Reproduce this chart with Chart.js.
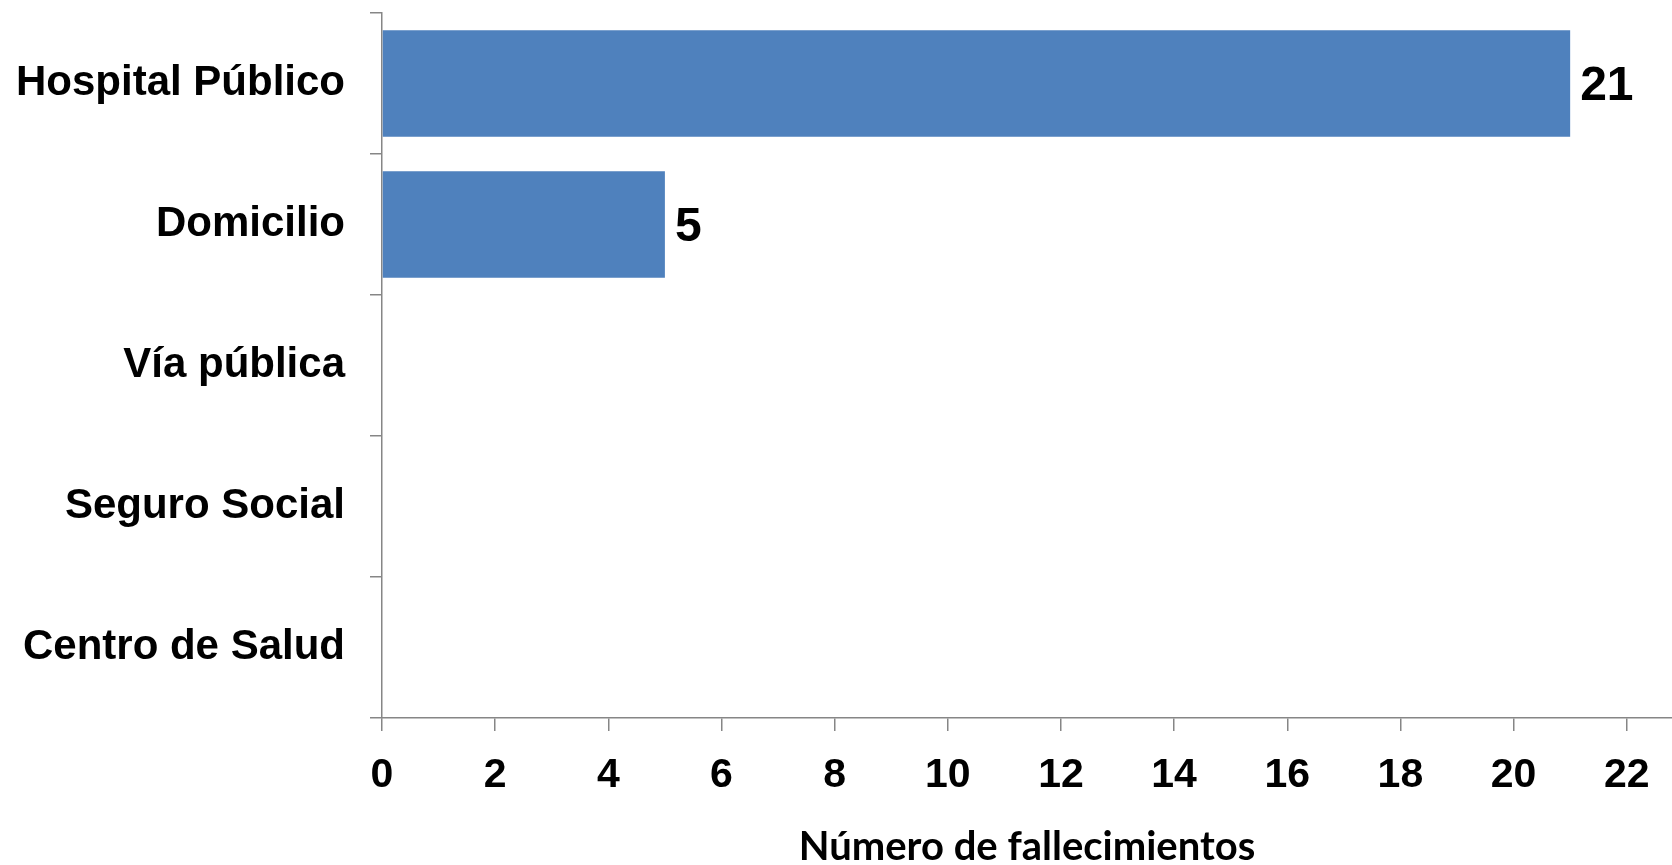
<!DOCTYPE html>
<html lang="es">
<head>
<meta charset="utf-8">
<title>Lugar de fallecimiento</title>
<script src="https://cdn.jsdelivr.net/npm/chart.js@4.4.1/dist/chart.umd.min.js"></script>
<style>
    html, body {
        margin: 0;
        padding: 0;
        background: #ffffff;
    }
    #chartBox {
        position: relative;
        width: 1672px;
        height: 865px;
    }
</style>
</head>
<body>
<div id="chartBox">
    <canvas id="deathChart"></canvas>
</div>
<script>
// Données du graphique
const categories = ['Hospital Público', 'Domicilio', 'Vía pública', 'Seguro Social', 'Centro de Salud'];
const deaths = [21, 5, 0, 0, 0];
const xTicks = [0, 2, 4, 6, 8, 10, 12, 14, 16, 18, 20, 22];
const xMax = 22.8;

const axisGray = '#868686';
const barBlue = '#4F81BD';

/**
 * Étiquettes de valeur au bout des barres
 */
const valueLabels = {
    id: 'valueLabels',
    afterDatasetsDraw(chart) {
        const ctx = chart.ctx;
        const meta = chart.getDatasetMeta(0);
        ctx.save();
        ctx.font = 'bold 48px "Liberation Sans", Arial, sans-serif';
        ctx.fillStyle = '#000000';
        ctx.textAlign = 'left';
        ctx.textBaseline = 'middle';
        meta.data.forEach((bar, i) => {
            if (!deaths[i]) return;
            ctx.fillText(String(deaths[i]), bar.x + 10, bar.y + 3);
        });
        ctx.restore();
    }
};

new Chart(document.getElementById('deathChart'), {
    type: 'bar',
    data: {
        labels: categories,
        datasets: [{
            data: deaths,
            backgroundColor: barBlue,
            borderWidth: 0,
            categoryPercentage: 1,
            barPercentage: 0.756
        }]
    },
    options: {
        indexAxis: 'y',
        responsive: true,
        maintainAspectRatio: false,
        animation: false,
        layout: {
            padding: { top: 13, right: 0, left: 0, bottom: 0 }
        },
        plugins: {
            legend: { display: false },
            tooltip: { enabled: false }
        },
        scales: {
            y: {
                afterFit: scale => {
                    scale.width = 382;
                    // pas de marge pour les demi-libellés
                    scale.paddingTop = 0;
                    scale.paddingBottom = 0;
                },
                grid: {
                    drawOnChartArea: false,
                    color: axisGray,
                    lineWidth: 1.5,
                    tickLength: 12
                },
                border: { color: axisGray, width: 1.5 },
                ticks: {
                    color: '#000000',
                    padding: 25,
                    font: { family: '"Liberation Sans", Arial, sans-serif', size: 42, weight: 'bold' }
                }
            },
            x: {
                min: 0,
                max: xMax,
                afterFit: scale => { scale.height = 147; },
                afterBuildTicks: scale => {
                    scale.ticks = xTicks.map(v => ({ value: v }));
                },
                grid: {
                    drawOnChartArea: false,
                    color: axisGray,
                    lineWidth: 1.5,
                    tickLength: 13
                },
                border: { color: axisGray, width: 1.5 },
                ticks: {
                    color: '#000000',
                    padding: 20,
                    maxRotation: 0,
                    autoSkip: false,
                    font: { family: '"Liberation Sans", Arial, sans-serif', size: 41, weight: 'bold' }
                },
                title: {
                    display: true,
                    text: 'Número de fallecimientos',
                    color: '#000000',
                    padding: { top: 0, bottom: -6 },
                    font: { family: 'Lato, "Open Sans", sans-serif', size: 40, weight: 'bold' }
                }
            }
        }
    },
    plugins: [valueLabels]
});
</script>
</body>
</html>
